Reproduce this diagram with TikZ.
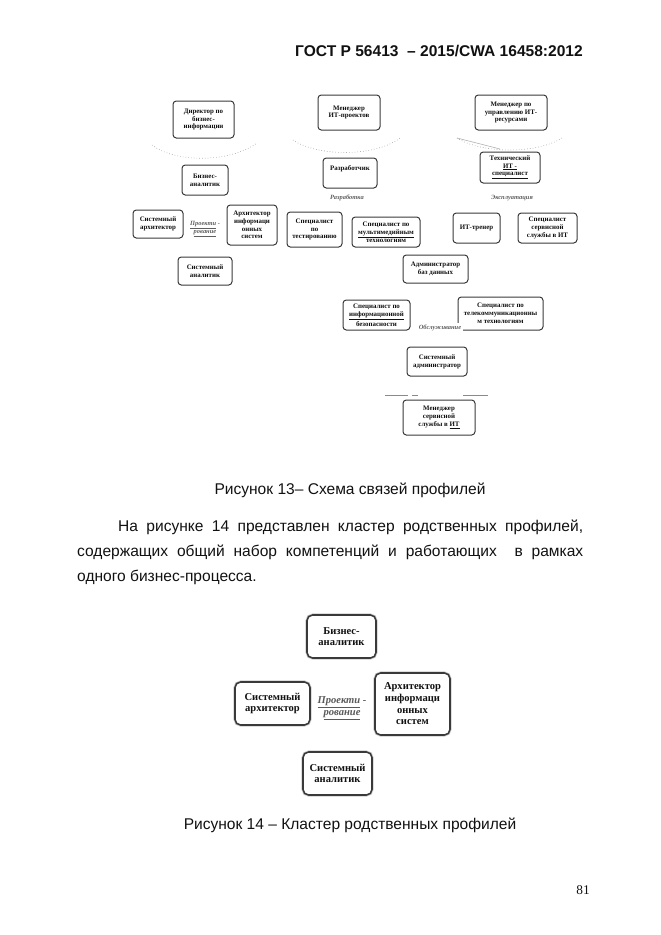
\documentclass[tikz,border=0pt]{standalone}
\usepackage{fontspec}
\setmainfont{Liberation Serif}
\newfontfamily\arialfont{Liberation Sans}
\usetikzlibrary{positioning,calc}
\definecolor{PageText}{HTML}{111111}
\definecolor{BoxLine}{HTML}{3A3A3A}
\definecolor{ArcGray}{HTML}{8A8A8A}
\definecolor{LabelGray}{HTML}{5E5E5E}

\begin{document}
\begin{tikzpicture}[
x=0.9pt, y=-0.9pt,
every node/.style={text=PageText},
prof/.style={
draw=BoxLine,
line width=0.9pt,
rounded corners=3pt,
fill=white,
inner sep=1pt,
align=center,
font=\fontsize{6.2}{7}\selectfont\bfseries
},
bigprof/.style={
prof,
line width=1.4pt,
rounded corners=5pt,
preaction={draw=black!20, line width=2.8pt},
font=\fontsize{9.5}{10.5}\selectfont\bfseries
},
sz/.style 2 args={minimum width=#1*0.9pt, minimum height=#2*0.9pt},
area/.style={
text=LabelGray,
inner sep=1pt,
align=center,
font=\fontsize{5.8}{6.8}\selectfont\bfseries\itshape
},
link/.style={draw=ArcGray, line width=0.5pt, dotted},
bodytext/.style={font=\arialfont\fontsize{14}{17}\selectfont, inner sep=0pt, anchor=base west}
]
\useasboundingbox (0,0) rectangle (661,935);

% Running head
\node[font=\arialfont\bfseries\fontsize{14}{16}\selectfont, inner sep=0pt, anchor=base east] (head) at (583,56) {ГОСТ Р 56413\ \ – 2015/CWA 16458:2012};

% Figure 13: managers on top
\node[prof, sz={61}{37}] (bizdir) at (203.5,119.5) {Директор по\\бизнес-\\информации};
\node[prof, sz={62}{35}] (itpm) at (349,112.5) {Менеджер\\ИТ-проектов};
\node[prof, sz={72}{35}] (itrm) at (511,112.5) {Менеджер по\\управлению ИТ-\\ресурсами};

% Faded links under the managers
\coordinate (bizL) at (152,145);
\coordinate (bizR) at (257,143);
\coordinate (pmL) at (293,140);
\coordinate (pmR) at (400,138);
\coordinate (rmL) at (457,138);
\coordinate (rmM) at (500,149);
\coordinate (rmR) at (562,138);
\draw[link] (bizL) .. controls (175,163) and (230,163) .. (bizR);
\draw[link] (pmL) .. controls (318,157) and (375,157) .. (pmR);
\draw[link] (rmL) .. controls (482,154) and (537,154) .. (rmR);
\draw[draw=ArcGray!70, line width=0.5pt] (rmL) -- (rmM);

% Design cluster
\node[prof, sz={46}{30}] (bizan) at (205,180) {Бизнес-\\аналитик};
\node[prof, sz={50}{28}] (sysarch) at (158,224) {Системный\\архитектор};
\node[area] (design) at (205,229) {\underline{Проекти} -\\\underline{рование}};
\node[prof, sz={50}{40}] (isarch) at (252,225) {Архитектор\\информаци\\онных\\систем};
\node[prof, sz={54}{28}] (sysan) at (205,271) {Системный\\аналитик};

% Development cluster
\node[prof, sz={54}{30}] (dev) at (350,173) {Разработчик\\[2pt]\mbox{}};
\node[area] (devlbl) at (347,198) {Разработка};
\node[prof, sz={55}{35}] (tester) at (314.5,229.5) {Специалист\\по\\тестированию};
\node[prof, sz={68}{30}] (mmspec) at (386,232) {Специалист по\\\underline{мультимедийным}\\технологиям};

% Operations cluster
\node[prof, sz={60}{31}] (itspec) at (510,167.5) {Технический\\\underline{ИТ -}\\\underline{специалист}};
\node[area] (opslbl) at (512,198) {Эксплуатация};
\node[prof, sz={47}{30}] (trainer) at (476.5,228) {ИТ-тренер};
\node[prof, sz={59}{30}] (svcspec) at (547.5,228) {Специалист\\сервисной\\службы в ИТ};

% Service cluster
\node[prof, sz={65}{28}] (dba) at (435.5,269) {Администратор\\баз данных};
\node[prof, sz={67}{30}] (secspec) at (376.5,315) {Специалист по\\\underline{информационной}\\безопасности};
\node[prof, sz={85}{33}] (telspec) at (500.5,313.5) {Специалист по\\телекоммуникационны\\м технологиям};
\node[area, fill=white, inner sep=2pt] (svclbl) at (440,328) {Обслуживание};
\node[prof, sz={60}{29}] (sysadm) at (437,361.5) {Системный\\администратор};
\coordinate (svcL) at (385,395);
\coordinate (svcR) at (488,395);
\draw[draw=ArcGray, line width=0.5pt, dash pattern=on 20.7pt off 3.6pt on 5.4pt off 40.5pt on 22.5pt] (svcL) -- (svcR);
\node[prof, sz={72}{35}] (svcmgr) at (439,417.5) {Менеджер\\сервисной\\службы в \underline{ИТ}};

% Caption and paragraph
\node[bodytext, anchor=base] (cap13) at (350,494) {Рисунок 13– Схема связей профилей};
\node[bodytext] (par1) at (118,531) {\makebox[418.5pt][s]{На рисунке 14 представлен кластер родственных профилей,}};
\node[bodytext] (par2) at (77,556) {\makebox[455.4pt][s]{содержащих общий набор компетенций и работающих\ \ в рамках}};
\node[bodytext] (par3) at (77,581) {одного бизнес-процесса.};

% Figure 14
\node[bigprof, sz={69}{43}] (bizan2) at (341.5,636.5) {Бизнес-\\аналитик};
\node[bigprof, sz={75}{43}] (sysarch2) at (272.5,703.5) {Системный\\архитектор};
\node[area, text=black!65, font=\fontsize{9.5}{11}\selectfont\bfseries\itshape] (design2) at (342,708) {\underline{Проекти} -\\\underline{рование}};
\node[bigprof, sz={75}{62}] (isarch2) at (412.5,704) {Архитектор\\информаци\\онных\\систем};
\node[bigprof, sz={69}{43}] (sysan2) at (337.5,773.5) {Системный\\аналитик};

\node[bodytext, anchor=base] (cap14) at (350,829) {Рисунок 14 – Кластер родственных профилей};

% Page number
\node[font=\fontsize{12}{14}\selectfont, inner sep=0pt, anchor=base east] (pageno) at (590,894) {81};

\end{tikzpicture}
\end{document}
